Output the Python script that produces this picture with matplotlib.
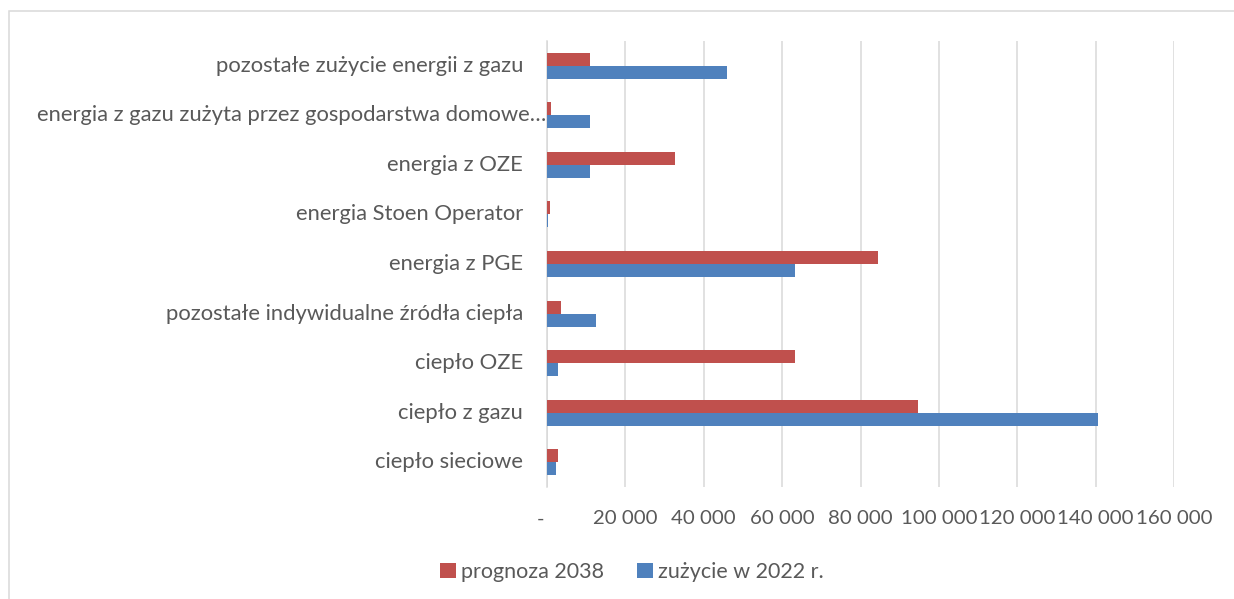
import matplotlib
matplotlib.use("Agg")
import matplotlib.pyplot as plt
from matplotlib.patches import Rectangle, Patch
from matplotlib.transforms import ScaledTranslation, blended_transform_factory
import numpy as np

# ---- data -------------------------------------------------------------
categories = [
    "ciepło sieciowe",
    "ciepło z gazu",
    "ciepło OZE",
    "pozostałe indywidualne źródła ciepła",
    "energia z PGE",
    "energia Stoen Operator",
    "energia z OZE",
    "energia z gazu zużyta przez gospodarstwa domowe…",
    "pozostałe zużycie energii z gazu",
]
prognoza_2038 = [2700, 94600, 63200, 3700, 84500, 800, 32700, 1000, 10900]
zuzycie_2022 = [2200, 140600, 2800, 12500, 63200, 150, 11000, 11000, 46000]
series_names = ["prognoza 2038", "zużycie w 2022 r."]

x_ticks = [0, 20000, 40000, 60000, 80000, 100000, 120000, 140000, 160000]
x_tick_labels = ["-", "20 000", "40 000", "60 000", "80 000",
                 "100 000", "120 000", "140 000", "160 000"]

# ---- style ------------------------------------------------------------
plt.rcParams["font.family"] = ["Lato", "DejaVu Sans"]
RED = "#C0504D"
BLUE = "#4F81BD"
GRID = "#D9D9D9"
TEXT = "#595959"
FS_CAT = 15.8
FS_TICK = 14.7
FS_LEG = 15.5

W, H, DPI = 1234, 599, 100
fig = plt.figure(figsize=(W / DPI, H / DPI), dpi=DPI)

# outer chart frame
fig.patches.append(Rectangle((9 / W, -0.1), 1.2, (1 - 11 / H) + 0.1,
                             transform=fig.transFigure, fill=False,
                             edgecolor=GRID, lw=1.1))

ax = fig.add_axes([547 / W, 1 - 487 / H, (1174 - 547) / W, (487 - 41) / H])

y = np.arange(len(categories))
bh = 0.262
ax.barh(y + bh / 2, prognoza_2038, height=bh, color=RED, zorder=3)
ax.barh(y - bh / 2, zuzycie_2022, height=bh, color=BLUE, zorder=3)

ax.set_xlim(0, 160000)
ax.set_ylim(-0.5, len(categories) - 0.5)
ax.set_xticks(x_ticks)
ax.set_yticks([])
ax.tick_params(axis="x", length=0, labelbottom=False)
ax.xaxis.grid(True, color=GRID, lw=1.1, zorder=0)
ax.set_axisbelow(True)
for s in ["top", "right", "bottom"]:
    ax.spines[s].set_visible(False)
ax.spines["left"].set_color(GRID)
ax.spines["left"].set_linewidth(1.1)

# category labels to the left of the axis
ylab_tr = blended_transform_factory(ax.transAxes, ax.transData)
ylab_shift = [-24] * len(categories)
ylab_shift[7] = -1
for i, name in enumerate(categories):
    ax.text(0, i, name, ha="right", va="center", fontsize=FS_CAT, color=TEXT,
            transform=ylab_tr + ScaledTranslation(ylab_shift[i] / DPI, 0,
                                                  fig.dpi_scale_trans))

# value-axis labels; the zero dash sits a little left of its gridline
xlab_tr = blended_transform_factory(ax.transData, ax.transAxes)
xlab_shift = [-6, 0, 0, 0, 0, 0, 0, 0, 0]
for xv, lab, dx in zip(x_ticks, x_tick_labels, xlab_shift):
    ax.text(xv, 0, lab, ha="center", va="center", fontsize=FS_TICK, color=TEXT,
            transform=xlab_tr + ScaledTranslation(dx / DPI, -32 / DPI,
                                                  fig.dpi_scale_trans))

handles = [Patch(facecolor=RED), Patch(facecolor=BLUE)]
fig.legend(handles, series_names, loc="center", bbox_to_anchor=(0.512, 0.045),
           ncol=2, frameon=False, handlelength=0.75, handleheight=0.75,
           handletextpad=0.25, columnspacing=1.5, fontsize=FS_LEG,
           labelcolor=TEXT)

fig.savefig("out.png", dpi=DPI)
